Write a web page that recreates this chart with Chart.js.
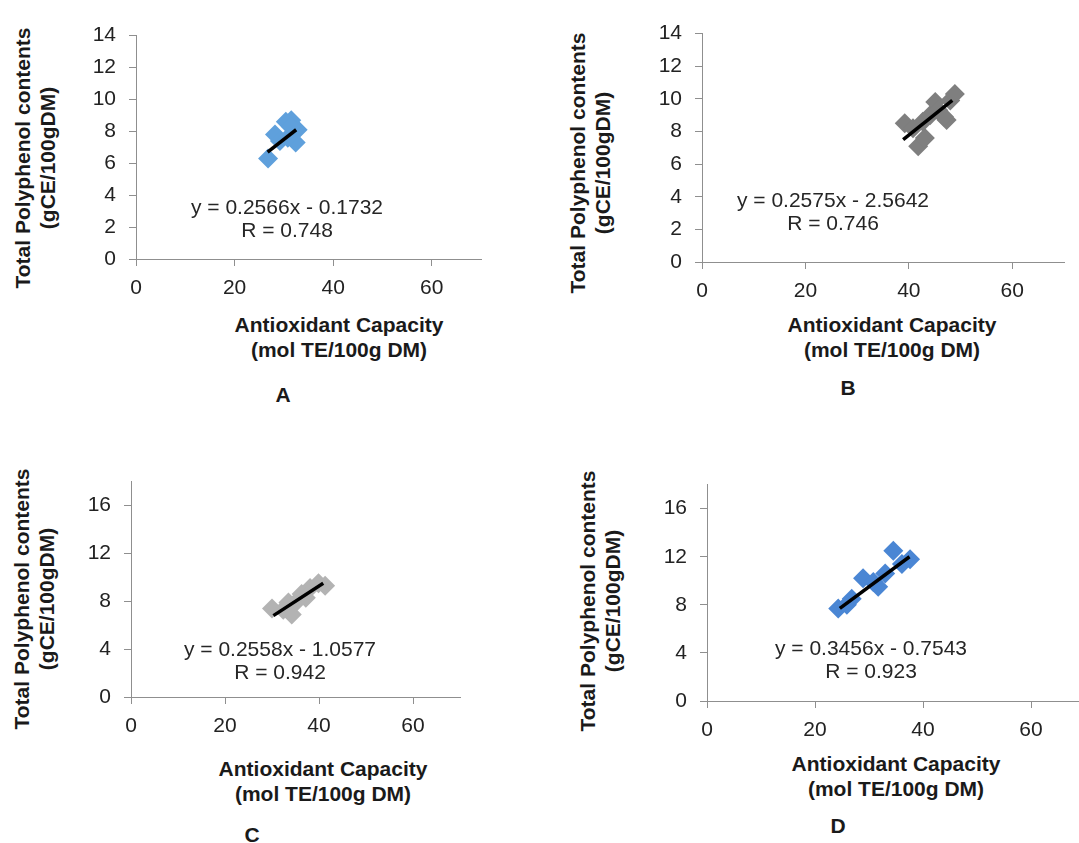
<!DOCTYPE html>
<html>
<head>
<meta charset="utf-8">
<script src="https://cdn.jsdelivr.net/npm/chart.js@4.4.0/dist/chart.umd.min.js"></script>
<style>
  body { margin: 0; width: 1079px; height: 843px; overflow: hidden; background: #fff; position: relative;
         font-family: "Liberation Sans", Arial, sans-serif; color: #1a1a1a; }
  canvas { position: absolute; }
  .t { position: absolute; transform: translate(-50%, -50%); white-space: nowrap; text-align: center; }
  .b { font-weight: bold; font-size: 21px; line-height: 25px; }
  .ytitle { transform: translate(-50%, -50%) rotate(-90deg); }
  .eq { font-size: 21px; line-height: 23px; color: #262626; }
  .lbl { font-weight: bold; font-size: 21px; }
</style>
</head>
<body>
<canvas id="chartA"></canvas>
<canvas id="chartB"></canvas>
<canvas id="chartC"></canvas>
<canvas id="chartD"></canvas>

<div class="t b ytitle" style="left:35px; top:158px;">Total Polyphenol contents<br>(gCE/100gDM)</div>
<div class="t b" style="left:339px; top:337px;">Antioxidant Capacity<br>(mol TE/100g DM)</div>
<div class="t eq" style="left:287px; top:218px;">y = 0.2566x - 0.1732<br>R = 0.748</div>
<div class="t lbl" style="left:283px; top:395px;">A</div>

<div class="t b ytitle" style="left:590px; top:163px;">Total Polyphenol contents<br>(gCE/100gDM)</div>
<div class="t b" style="left:892px; top:337px;">Antioxidant Capacity<br>(mol TE/100g DM)</div>
<div class="t eq" style="left:833px; top:211px;">y = 0.2575x - 2.5642<br>R = 0.746</div>
<div class="t lbl" style="left:848px; top:388px;">B</div>

<div class="t b ytitle" style="left:34px; top:599px;">Total Polyphenol contents<br>(gCE/100gDM)</div>
<div class="t b" style="left:323px; top:781px;">Antioxidant Capacity<br>(mol TE/100g DM)</div>
<div class="t eq" style="left:280px; top:660px;">y = 0.2558x - 1.0577<br>R = 0.942</div>
<div class="t lbl" style="left:252px; top:835px;">C</div>

<div class="t b ytitle" style="left:600px; top:601px;">Total Polyphenol contents<br>(gCE/100gDM)</div>
<div class="t b" style="left:896px; top:776px;">Antioxidant Capacity<br>(mol TE/100g DM)</div>
<div class="t eq" style="left:871px; top:659px;">y = 0.3456x - 0.7543<br>R = 0.923</div>
<div class="t lbl" style="left:838px; top:826px;">D</div>

<script>
// values
const xTicks = [0, 20, 40, 60];

const capacityA = [26.8, 28.2, 29.2, 30.4, 31.5, 32.8, 32.4, 30.8, 31.4];
const polyphenolA = [6.3, 7.8, 7.4, 8.6, 8.7, 8.1, 7.3, 7.6, 8.3];
const trendXA = [26.7, 32.5];
const trendYA = [6.7, 8.1];

const capacityB = [39.2, 40.8, 41.8, 43.1, 42.7, 44.1, 45.1, 45.7, 47.3, 48.0, 48.9, 46.8];
const polyphenolB = [8.5, 8.2, 7.1, 7.6, 8.6, 9.0, 9.8, 9.3, 8.7, 9.9, 10.3, 8.9];
const trendXB = [38.9, 48.4];
const trendYB = [7.5, 9.9];

const capacityC = [30.0, 32.4, 34.2, 33.5, 35.3, 36.3, 38.1, 39.9, 41.3, 37.2];
const polyphenolC = [7.4, 7.3, 6.9, 7.9, 8.0, 8.6, 9.1, 9.5, 9.3, 8.3];
const trendXC = [30.3, 40.9];
const trendYC = [6.8, 9.5];

const capacityD = [24.3, 25.9, 26.8, 28.9, 30.8, 31.7, 33.0, 34.5, 36.1, 37.6];
const polyphenolD = [7.7, 8.0, 8.5, 10.2, 9.9, 9.5, 10.6, 12.5, 11.4, 11.8];
const trendXD = [24.6, 37.5];
const trendYD = [7.7, 12.0];

const pts = (xs, ys) => xs.map((x, i) => ({ x: x, y: ys[i] }));

const axisGray = '#8f8f8f';
const tickFont = { family: '"Liberation Sans", Arial, sans-serif', size: 21 };

// plot area in page pixels: left, top, right, bottom
function makeChart(id, box, xs, ys, tx, ty, color, yMax, yStep) {
    const el = document.getElementById(id);
    const yw = 60, xh = 48, padT = 14, padR = 14;
    el.width = box[2] - box[0] + yw + padR;
    el.height = box[3] - box[1] + xh + padT;
    el.style.left = (box[0] - yw) + 'px';
    el.style.top = (box[1] - padT) + 'px';

    new Chart(el.getContext('2d'), {
        type: 'scatter',
        data: {
            datasets: [{
                data: pts(tx, ty),
                showLine: true,
                borderColor: '#000',
                borderWidth: 3.5,
                pointRadius: 0,
                order: 0
            }, {
                data: pts(xs, ys),
                pointStyle: 'rectRot',
                pointRadius: 10,
                backgroundColor: color,
                borderWidth: 0,
                order: 1
            }]
        },
        options: {
            responsive: false,
            animation: false,
            devicePixelRatio: 1,
            layout: { padding: { top: padT, right: padR, left: 0, bottom: 0 } },
            plugins: { legend: { display: false }, tooltip: { enabled: false } },
            scales: {
                x: {
                    type: 'linear', min: 0, max: 70,
                    ticks: { stepSize: 20, color: '#222', font: tickFont, padding: 10, maxRotation: 0 },
                    afterBuildTicks: s => { s.ticks = s.ticks.filter(t => xTicks.includes(t.value)); },
                    afterFit: s => { s.height = xh; },
                    grid: { drawOnChartArea: false, color: axisGray, tickLength: 7 },
                    border: { color: axisGray, width: 1 }
                },
                y: {
                    min: 0, max: yMax,
                    ticks: { stepSize: yStep, color: '#222', font: tickFont, padding: 13 },
                    afterBuildTicks: s => { s.ticks = s.ticks.filter(t => t.value % yStep === 0); },
                    afterFit: s => { s.width = yw; },
                    grid: { drawOnChartArea: false, color: axisGray, tickLength: 7 },
                    border: { color: axisGray, width: 1 }
                }
            }
        }
    });
}

makeChart('chartA', [136, 24, 481, 259], capacityA, polyphenolA, trendXA, trendYA, '#5fa0dc', 14, 2);
makeChart('chartB', [702, 22, 1064, 262], capacityB, polyphenolB, trendXB, trendYB, '#7f7f7f', 14, 2);
makeChart('chartC', [131, 470, 460, 697], capacityC, polyphenolC, trendXC, trendYC, '#b3b3b3', 18, 4);
makeChart('chartD', [707, 473, 1085, 701], capacityD, polyphenolD, trendXD, trendYD, '#4a86d4', 18, 4);
</script>
</body>
</html>
